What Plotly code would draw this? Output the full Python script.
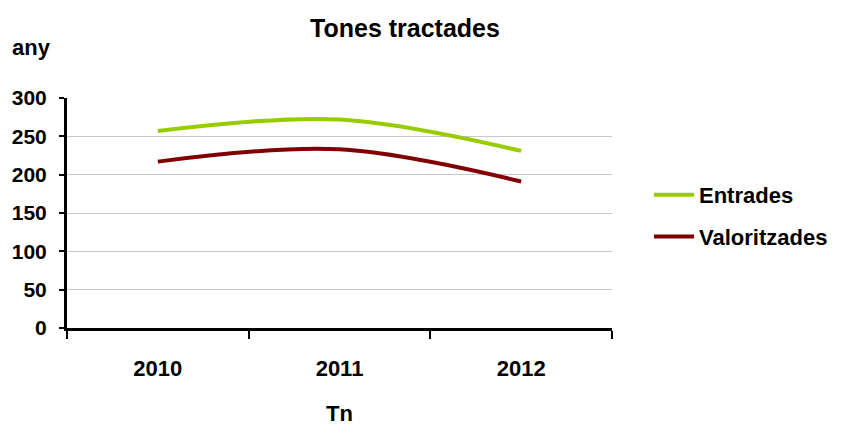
import plotly.graph_objects as go

years = ['2010', '2011', '2012']
entrades = [257, 272, 231]
valoritzades = [217, 233, 191]

FONT = 'Liberation Sans, Arial, sans-serif'

fig = go.Figure()

fig.add_trace(go.Scatter(
    x=years,
    y=entrades,
    mode='lines',
    name='<b>Entrades</b>',
    legendgroup='a',
    line=dict(color='#99CC00', width=4, shape='spline', smoothing=1),
))

fig.add_trace(go.Scatter(
    x=years,
    y=valoritzades,
    mode='lines',
    name='<b>Valoritzades</b>',
    legendgroup='b',
    line=dict(color='#800000', width=4, shape='spline', smoothing=1),
))

# page body adds an 8px offset, margins compensate for it
fig.update_layout(
    width=845,
    height=427,
    margin=dict(l=59, r=241, t=90, b=107, autoexpand=False),
    paper_bgcolor='white',
    plot_bgcolor='white',
    font=dict(family=FONT, size=22, color='black'),
    title=dict(
        text='<b>Tones tractades</b>',
        x=397 / 845, xanchor='center',
        y=1 - 20 / 427, yanchor='middle',
        xref='container', yref='container',
        font=dict(size=25),
    ),
    xaxis=dict(
        type='category',
        range=[-0.5, 2.5],
        tickson='boundaries',
        ticks='outside',
        ticklen=8,
        tickwidth=2,
        tickcolor='black',
        showline=True,
        linecolor='black',
        linewidth=3,
        showgrid=False,
        tickfont=dict(size=22),
        tickprefix='<b>', ticksuffix='</b>',
        ticklabelstandoff=19,
        title=dict(text='<b>Tn</b>', standoff=26, font=dict(size=22)),
    ),
    yaxis=dict(
        range=[0, 300],
        dtick=50,
        ticks='outside',
        ticklen=5,
        tickwidth=2,
        tickcolor='black',
        showline=True,
        linecolor='black',
        linewidth=3,
        showgrid=True,
        gridcolor='#c8c8c8',
        gridwidth=1,
        zeroline=False,
        tickprefix='<b>', ticksuffix='</b>',
        ticklabelstandoff=8,
        tickfont=dict(size=21),
    ),
    legend=dict(
        x=641 / 845, xref='container', xanchor='left',
        y=1 - 166 / 427, yref='container', yanchor='top',
        font=dict(size=22),
        tracegroupgap=10,
        bgcolor='rgba(0,0,0,0)',
        itemwidth=40,
    ),
    annotations=[
        dict(
            text='<b>any</b>',
            xref='paper', yref='paper',
            x=-57 / 545, y=1 + 50 / 230,
            xanchor='left', yanchor='middle',
            showarrow=False,
            font=dict(size=22),
        ),
    ],
)

fig.write_html('out.html')
